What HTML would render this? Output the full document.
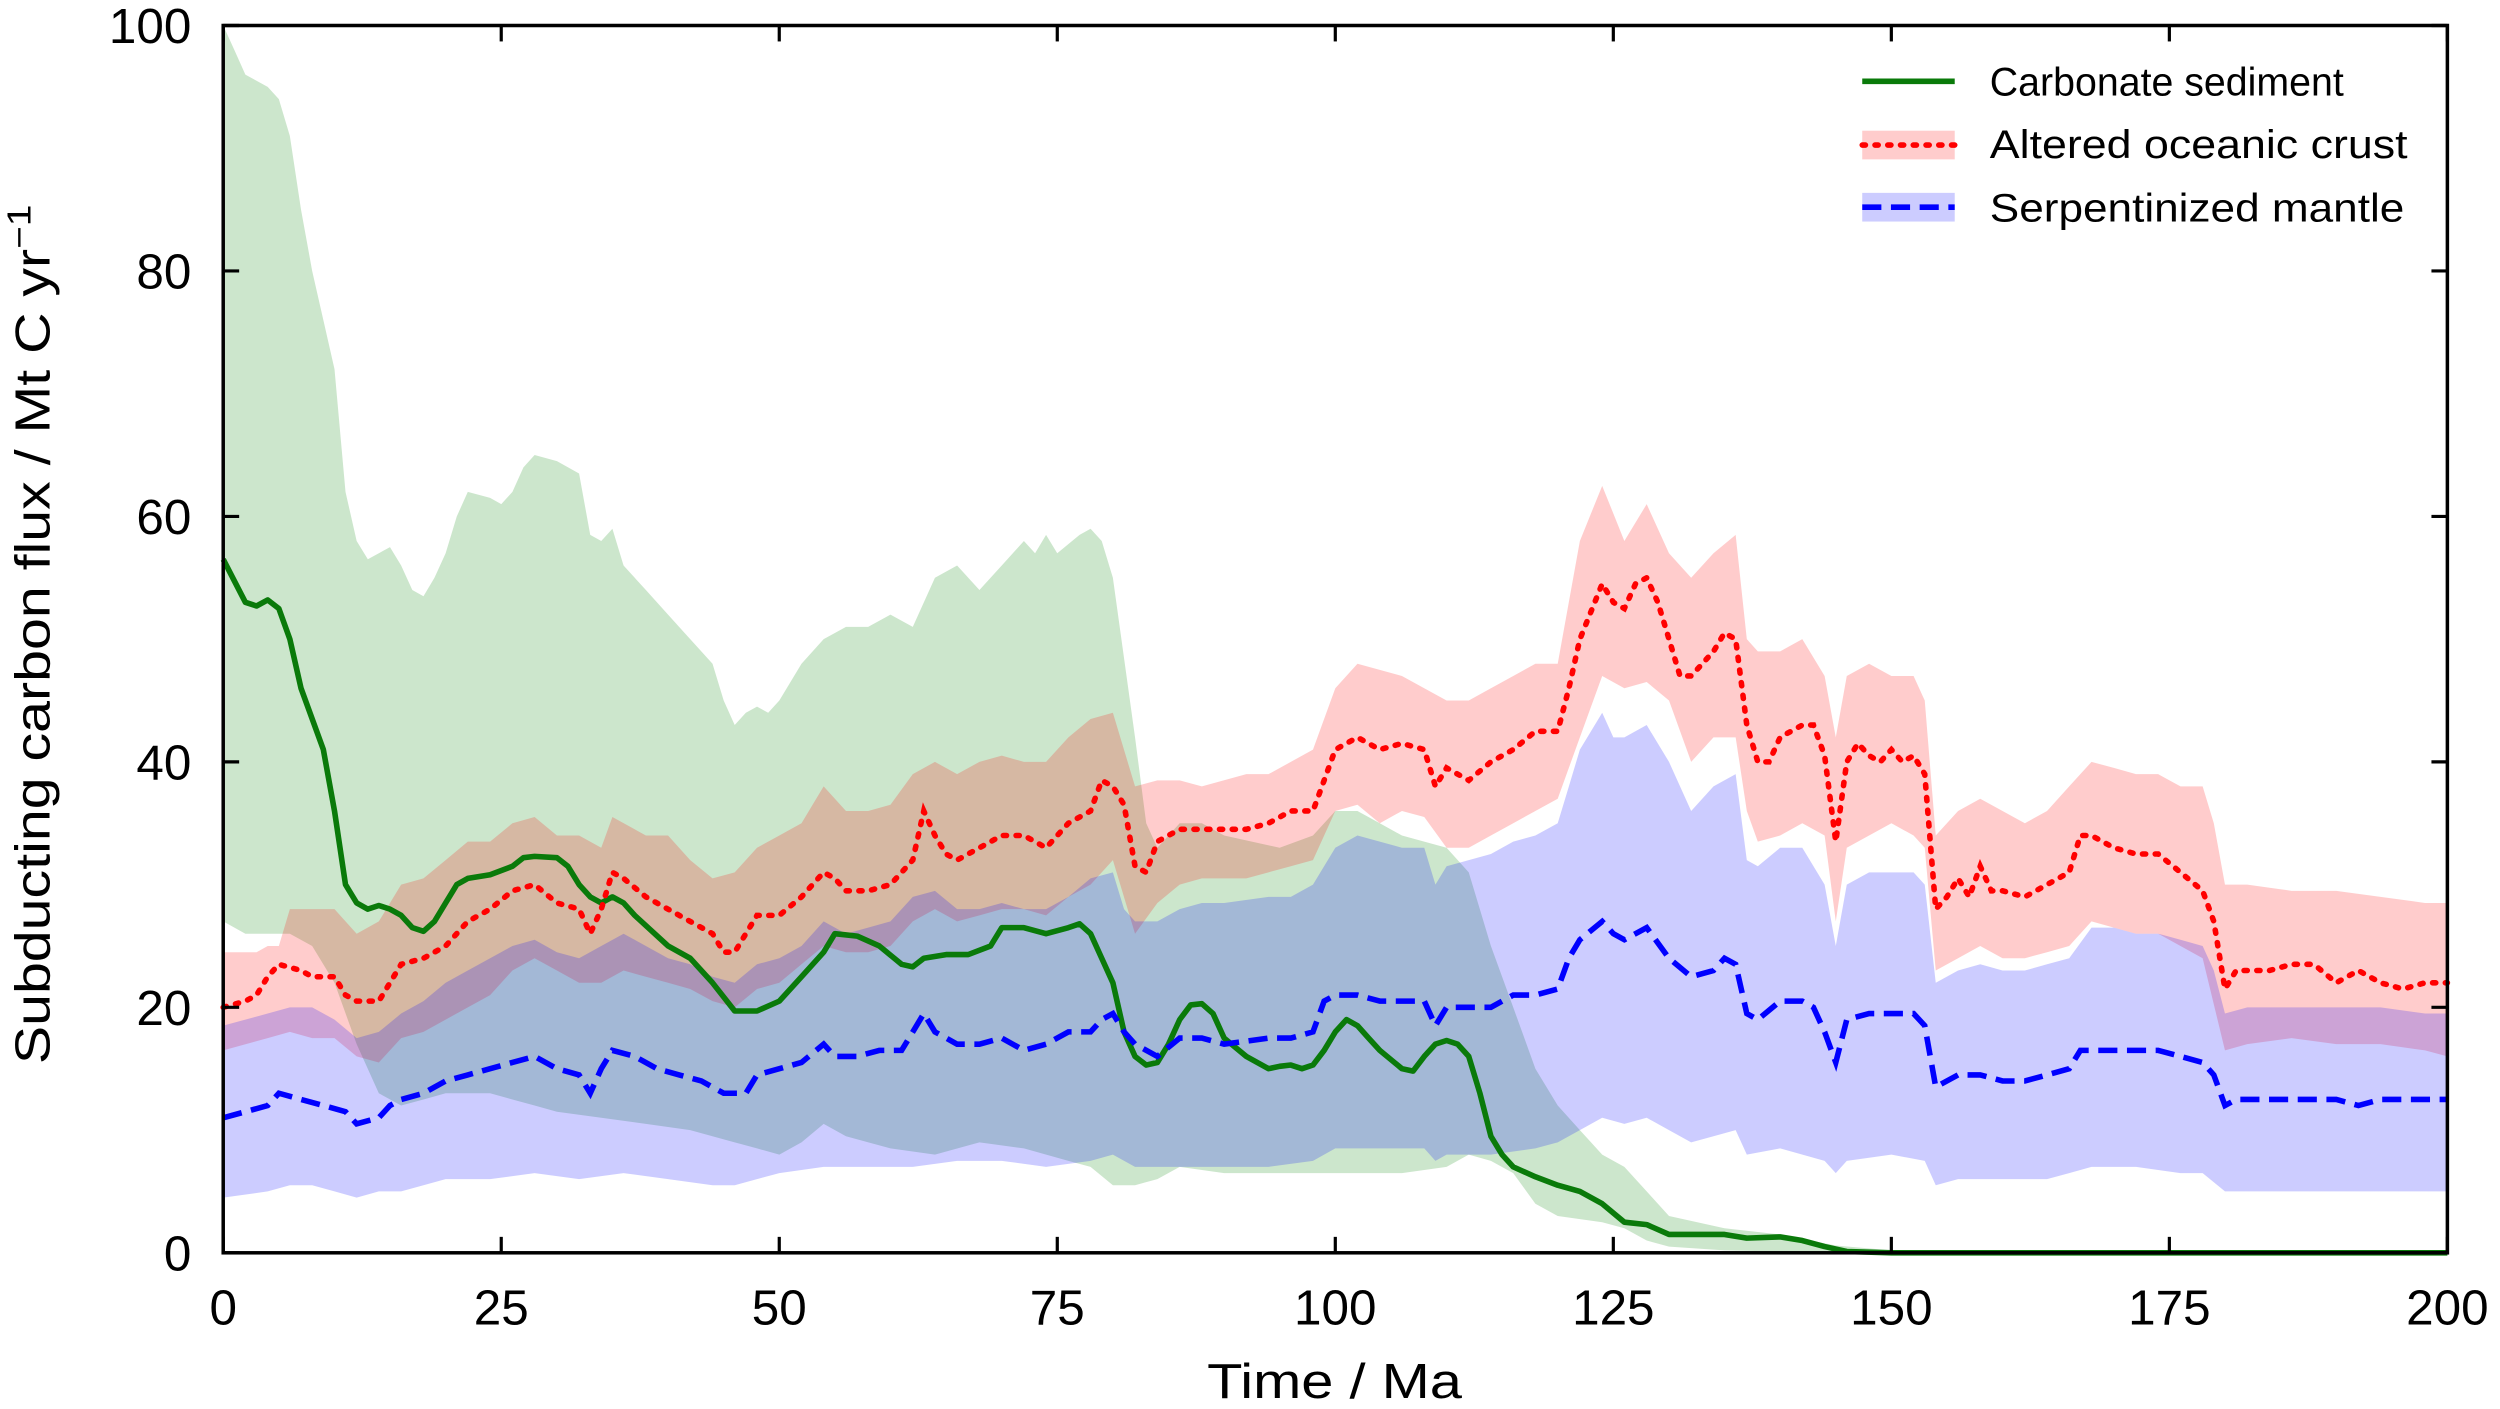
<!DOCTYPE html>
<html><head><meta charset="utf-8">
<style>
html,body{margin:0;padding:0;background:#fff;}
svg{display:block;}
text{font-family:"Liberation Sans","DejaVu Sans",sans-serif;fill:#000;}
</style></head>
<body>
<svg id="s" width="2500" height="1409" viewBox="0 0 1568 884" preserveAspectRatio="none" xmlns="http://www.w3.org/2000/svg">
<rect x="0" y="0" width="1568" height="884" fill="#fff"/>
<g id="fills"></g>
<g id="lines"></g>
<g id="axes"></g>
<g id="legend">
<rect x="1168" y="82" width="58" height="18" fill="rgba(255,0,0,0.2)"/>
<rect x="1168" y="121" width="58" height="18" fill="rgba(0,0,255,0.2)"/>
<line x1="1168" y1="51" x2="1226" y2="51" stroke="#0a7a0a" stroke-width="3.5"/>
<line x1="1168" y1="91" x2="1226" y2="91" stroke="#ff0000" stroke-width="3.5" stroke-dasharray="2,6" stroke-linecap="round"/>
<line x1="1168" y1="130" x2="1226" y2="130" stroke="#0000ff" stroke-width="3.5" stroke-dasharray="12,6"/>
<text x="1248" y="60" font-size="25" textLength="222" lengthAdjust="spacingAndGlyphs">Carbonate sediment</text>
<text x="1248" y="99" font-size="25" textLength="262" lengthAdjust="spacingAndGlyphs">Altered oceanic crust</text>
<text x="1248" y="139" font-size="25" textLength="260" lengthAdjust="spacingAndGlyphs">Serpentinized mantle</text>
</g>
</svg>
<script>
function P(s){return s.trim().split(/\s*,\s*/).map(function(t){var a=t.split(':');return [+a[0],+a[1]];});}
function X(x){return 140+x*6.975;} function Y(y){return 786-y*7.7;}
function line(d){return d.map(function(p,i){return (i?'L':'M')+X(p[0]).toFixed(1)+' '+Y(p[1]).toFixed(1);}).join('');}
function band(u,l){var r=l.slice().reverse();return line(u)+r.map(function(p){return 'L'+X(p[0]).toFixed(1)+' '+Y(p[1]).toFixed(1);}).join('')+'Z';}
var gL=P("0:56.5,2:53,3:52.7,4:53.2,5:52.5,6:50,7:46,9:41,10:36,11:30,12:28.5,13:28,14:28.3,15:28,16:27.5,17:26.5,18:26.2,19:27,20:28.5,21:30,22:30.5,24:30.8,26:31.5,27:32.2,28:32.3,30:32.2,31:31.5,32:30,33:29,34:28.5,35:29,36:28.5,37:27.5,40:25,42:24,44:22,46:19.7,48:19.7,50:20.5,52:22.5,54:24.5,55:26,57:25.8,59:25,61:23.5,62:23.3,63:24,65:24.3,67:24.3,69:25,70:26.5,72:26.5,74:26,76:26.5,77:26.8,78:26,79:24,80:22,81:18,82:16,83:15.3,84:15.5,85:17,86:19,87:20.2,88:20.3,89:19.5,90:17.5,92:16,94:15,95:15.2,96:15.3,97:15,98:15.3,99:16.5,100:18,101:19,102:18.5,103:17.5,104:16.5,106:15,107:14.8,108:16,109:17,110:17.3,111:17,112:16,113:13,114:9.5,115:8,116:7,118:6.2,120:5.5,122:5,124:4,126:2.5,128:2.3,130:1.5,135:1.5,137:1.2,140:1.3,142:1,144:0.5,146:0.1,150:0,200:0");
var gU=P("0:100,1:98,2:96,4:95,5:94,6:91,7:85,8:80,9:76,10:72,11:62,12:58,13:56.5,14:57,15:57.5,16:56,17:54,18:53.5,19:55,20:57,21:60,22:62,24:61.5,25:61,26:62,27:64,28:65,30:64.5,32:63.5,33:58.5,34:58,35:59,36:56,38:54,40:52,42:50,44:48,45:45,46:43,47:44,48:44.5,49:44,50:45,52:48,54:50,56:51,58:51,60:52,62:51,64:55,66:56,68:54,70:56,72:58,73:57,74:58.5,75:57,77:58.5,78:59,79:58,80:55,82:42,83:35,84:33,86:35,88:35,90:34,95:33,98:34,100:36,102:36,104:35,106:34,110:33,112:31,114:25,116:20,118:15,120:12,122:10,124:8,126:7,128:5,130:3,135:2,140:1.5,145:0.6,150:0.2,200:0");
var gLo=P("0:27,2:26,4:26,6:26,8:25,10:22,12:17,14:13,16:12,18:12.5,20:13,24:13,26:12.5,28:12,30:11.5,34:11,38:10.5,42:10,46:9,48:8.5,50:8,52:9,54:10.5,56:9.5,60:8.5,64:8,68:9,72:8.5,76:7.5,78:7,80:5.5,82:5.5,84:6,86:7,90:6.5,94:6.5,98:6.5,102:6.5,106:6.5,110:7,112:8,114:7.5,116:6.5,118:4,120:3,124:2.5,126:2,128:1,130:0.5,135:0.2,140:0.1,145:0,200:0");
var rL=P("0:20,2:20.5,3:21,4:22.5,5:23.5,7:23,8:22.5,10:22.5,11:21,12:20.5,14:20.5,15:22,16:23.5,18:24,20:25,22:27,24:28,26:29.5,28:30,30:28.5,32:28,33:26,34:28,35:31,36:30.5,38:29,40:28,42:27,44:26,45:24.5,46:24.5,47:26,48:27.5,50:27.5,52:29,54:31,55:30.5,56:29.5,58:29.5,60:30,62:32,63:36,64:34,65:32.5,66:32,68:33,70:34,72:34,74:33,76:35,78:36,79:38.5,80:38,81:36.5,82:31.5,83:31,84:33.5,86:34.5,88:34.5,92:34.5,94:35,96:36,98:36,99:38.5,100:41,102:42,104:41,106:41.5,108:41,109:38,110:39.5,112:38.5,114:40,116:41,118:42.5,120:42.5,121:46,122:50,124:54.5,125:53,126:52.5,127:54.5,128:55,129:53,130:50,131:47,132:47,134:49,135:50.5,136:50,137:43,138:40,139:40,140:42,142:43,143:43,144:40.5,145:33.5,146:40,147:41.5,148:40.5,149:40,150:41,151:40,152:40.5,153:39,154:28,155:29,156:30.5,157:29,158:31.5,159:29.5,160:29.5,162:29,164:30,166:31,167:34,168:34,170:33,172:32.5,174:32.5,176:31,178:29.5,179:27,180:21.5,181:23,184:23,186:23.5,188:23.5,190:22,192:23,194:22,196:21.5,198:22,200:22");
var rU=P("0:24.5,3:24.5,4:25,5:25,6:28,8:28,10:28,12:26,14:27,16:30,18:30.5,20:32,22:33.5,24:33.5,26:35,28:35.5,30:34,32:34,34:33,35:35.5,38:34,40:34,42:32,44:30.5,46:31,48:33,50:34,52:35,54:38,56:36,58:36,60:36.5,62:39,64:40,66:39,68:40,70:40.5,72:40,74:40,76:42,78:43.5,80:44,82:38,84:38.5,86:38.5,88:38,92:39,94:39,96:40,98:41,100:46,102:48,104:47.5,106:47,108:46,110:45,112:45,114:46,116:47,118:48,120:48,122:58,124:62.5,126:58,128:61,130:57,132:55,134:57,136:58.5,137:50,138:49,140:49,142:50,144:47,145:42,146:47,148:48,150:47,152:47,153:45,154:34,156:36,158:37,160:36,162:35,164:36,166:38,168:40,170:39.5,172:39,174:39,176:38,178:38,179:35,180:30,182:30,186:29.5,190:29.5,194:29,198:28.5,200:28.5");
var rLo=P("0:16.5,4:17.5,6:18,8:17.5,10:17.5,12:16,14:15.5,16:17.5,18:18,20:19,22:20,24:21,26:23,28:24,30:23,32:22,34:22,36:23,38:22.5,40:22,42:21.5,44:20.5,46:20,48:21.5,50:22,52:23.5,54:25,56:24.5,58:24.5,60:25,62:27,64:28,66:27,68:27.5,70:28,72:28,74:27.5,76:29,78:30,80:32,82:26,84:28.5,86:30,88:30.5,92:30.5,94:31,96:31.5,98:32,100:36,102:36.5,104:35,106:36,108:35.5,110:33,112:33,114:34,116:35,118:36,120:37,122:42,124:47,126:46,128:46.5,130:45,132:40,134:42,136:42,137:36,138:33.5,140:34,142:35,144:34,145:27,146:33,148:34,150:35,152:34,153:33,154:23,156:24,158:25,160:24,162:24,164:24.5,166:25,168:27,170:26.5,172:26,174:26,176:25,178:24,180:16.5,182:17,186:17.5,190:17,194:17,198:16.5,200:16");
var bL=P("0:11,2:11.5,4:12,5:13,7:12.5,9:12,11:11.5,12:10.5,14:11,15:12,16:12.5,18:13,20:14,22:14.5,24:15,26:15.5,28:16,30:15,32:14.5,33:13,34:15,35:16.5,37:16,39:15,41:14.5,43:14,45:13,47:13,48:14.5,50:15,52:15.5,54:17,55:16,57:16,59:16.5,61:16.5,62:18,63:19.5,64:18,66:17,68:17,70:17.5,72:16.5,74:17,76:18,78:18,79:19,80:19.5,81:18,82:17,84:16,86:17.5,88:17.5,90:17,94:17.5,96:17.5,98:18,99:20.5,100:21,102:21,104:20.5,106:20.5,108:20.5,109:18.5,110:20,112:20,114:20,116:21,118:21,120:21.5,121:24,122:25.5,124:27,125:26,126:25.5,128:26.5,130:24,132:22.5,134:23,135:24,136:23.5,137:19.5,138:19,140:20.5,142:20.5,143:20,144:18,145:15.5,146:19,148:19.5,150:19.5,152:19.5,153:18.5,154:13.5,156:14.5,158:14.5,160:14,162:14,164:14.5,166:15,167:16.5,170:16.5,172:16.5,174:16.5,176:16,178:15.5,179:14.5,180:12,181:12.5,186:12.5,190:12.5,192:12,194:12.5,200:12.5");
var bU=P("0:18.5,4:19.5,6:20,8:20,10:19,12:17.5,14:18,16:19.5,18:20.5,20:22,22:23,24:24,26:25,28:25.5,30:24.5,32:24,34:25,36:26,38:25,40:24,42:23.5,44:22.5,46:22,48:23.5,50:24,52:25,54:27,56:26,58:26.5,60:27,62:29,64:29.5,66:28,68:28,70:28.5,72:28,74:28,76:29,78:30.5,80:31,81:28,82:27,84:27,86:28,88:28.5,90:28.5,94:29,96:29,98:30,100:33,102:34,104:33.5,106:33,108:33,109:30,110:31.5,112:32,114:32.5,116:33.5,118:34,120:35,121:38,122:41,124:44,125:42,126:42,128:43,130:40,132:36,134:38,136:39,137:32,138:31.5,140:33,142:33,144:30,145:25,146:30,148:31,150:31,152:31,153:30,154:22,156:23,158:23.5,160:23,162:23,164:23.5,166:24,168:26.5,170:26.5,172:26,174:26,176:25.5,178:25,179:23,180:19.5,182:20,186:20,190:20,194:20,198:19.5,200:19.5");
var bLo=P("0:4.5,4:5,6:5.5,8:5.5,10:5,12:4.5,14:5,16:5,18:5.5,20:6,24:6,28:6.5,32:6,36:6.5,40:6,44:5.5,46:5.5,48:6,50:6.5,54:7,58:7,62:7,66:7.5,70:7.5,74:7,78:7.5,80:8,82:7,84:7,86:7,90:7,94:7,98:7.5,100:8.5,104:8.5,108:8.5,109:7.5,110:8,114:8,118:8.5,120:9,122:10,124:11,126:10.5,128:11,130:10,132:9,134:9.5,136:10,137:8,140:8.5,144:7.5,145:6.5,146:7.5,150:8,153:7.5,154:5.5,156:6,160:6,164:6,166:6.5,168:7,172:7,176:6.5,178:6.5,180:5,186:5,190:5,200:5");
var NS='http://www.w3.org/2000/svg';
function add(g,tag,attrs,txt){var e=document.createElementNS(NS,tag);for(var k in attrs)e.setAttribute(k,attrs[k]);if(txt!=null)e.textContent=txt;document.getElementById(g).appendChild(e);return e;}
add('fills','path',{d:band(gU,gLo),fill:'rgba(0,128,0,0.2)'});
add('fills','path',{d:band(rU,rLo),fill:'rgba(255,0,0,0.2)'});
add('fills','path',{d:band(bU,bLo),fill:'rgba(0,0,255,0.2)'});
add('lines','path',{d:line(gL),fill:'none',stroke:'#0a7a0a','stroke-width':3.5,'stroke-linejoin':'round'});
add('lines','path',{d:line(rL),fill:'none',stroke:'#ff0000','stroke-width':3.5,'stroke-dasharray':'2,6','stroke-linecap':'round'});
add('lines','path',{d:line(bL),fill:'none',stroke:'#0000ff','stroke-width':3.5,'stroke-dasharray':'12,6'});
add('axes','rect',{x:140,y:16,width:1395,height:770,fill:'none',stroke:'#000','stroke-width':2.2});
for(var t=0;t<=200;t+=25){var x=X(t);
 add('axes','line',{x1:x,y1:786,x2:x,y2:776,stroke:'#000','stroke-width':2});
 add('axes','line',{x1:x,y1:16,x2:x,y2:26,stroke:'#000','stroke-width':2});
 add('axes','text',{x:x,y:831,'font-size':31,'text-anchor':'middle'},String(t));}
for(var v=0;v<=100;v+=20){var y=Y(v);
 add('axes','line',{x1:140,y1:y,x2:150,y2:y,stroke:'#000','stroke-width':2});
 add('axes','line',{x1:1535,y1:y,x2:1525,y2:y,stroke:'#000','stroke-width':2});
 add('axes','text',{x:120,y:y+11,'font-size':31,'text-anchor':'end'},String(v));}
add('axes','text',{x:0,y:0,'font-size':31,'text-anchor':'middle',transform:'translate(837,877) scale(1.17,1)'},'Time / Ma');
var tt=add('axes','text',{x:0,y:0,'font-size':31,'text-anchor':'middle',transform:'translate(31,398) rotate(-90) scale(1.16,1)'});
tt.innerHTML='Subducting carbon flux / Mt C yr<tspan dy="-12" font-size="21">\u22121</tspan>';
</script>
</body></html>
